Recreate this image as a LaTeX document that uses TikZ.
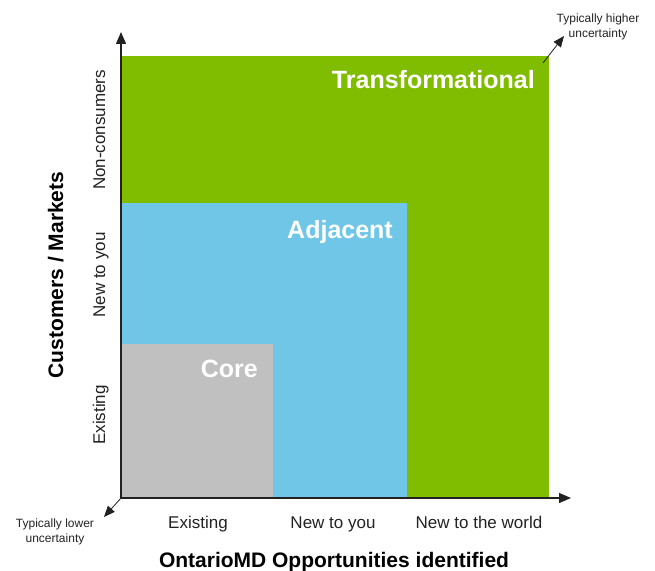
\documentclass[tikz,border=0pt]{standalone}
\usepackage{fontspec}
\setmainfont{Liberation Sans}
\usetikzlibrary{arrows.meta}
\definecolor{zonegreen}{HTML}{80BC00}
\definecolor{zoneblue}{HTML}{70C6E6}
\definecolor{zonegray}{HTML}{C0C0C0}
\definecolor{axisgray}{HTML}{222222}
\begin{document}
\begin{tikzpicture}[x=1pt,y=1pt,
  zonelabel/.style={font=\fontsize{25}{30}\selectfont\bfseries, text=white, inner sep=0pt, anchor=base east},
  ticklabel/.style={font=\fontsize{17}{20}\selectfont, text=axisgray, inner sep=0pt, anchor=base},
  axistitle/.style={font=\fontsize{21}{25}\selectfont\bfseries, text=black, inner sep=0pt, anchor=base},
  notelabel/.style={font=\fontsize{12}{14.5}\selectfont, text=axisgray, align=center, inner sep=0pt},
  axisline/.style={line width=1.3pt, draw=axisgray, -{Triangle[length=12pt,width=10pt]}},
  noteline/.style={line width=0.8pt, draw=axisgray, -{Triangle[length=11pt,width=9pt]}}]
\useasboundingbox (0,0) rectangle (655,570);

% nested zones
\fill[zonegreen] (122,72) rectangle (549,514);
\fill[zoneblue]  (122,72) rectangle (407,367);
\fill[zonegray]  (122,72) rectangle (273,226);

\node[zonelabel] (transf) at (535,481) {Transformational};
\node[zonelabel] (adj) at (393,331) {Adjacent};
\node[zonelabel] (core) at (258,192) {Core};

% axes
\coordinate (origin) at (121,72);
\coordinate (ytip) at (121,538);
\coordinate (xtip) at (571,72);
\draw[axisline] (origin) -- (ytip);
\draw[axisline] (origin) -- (xtip);

% horizontal tick labels
\node[ticklabel] (xa) at (198,42) {Existing};
\node[ticklabel] (xb) at (333,42) {New to you};
\node[ticklabel] (xc) at (479,42) {New to the world};

% vertical tick labels
\node[ticklabel, rotate=90] (ya) at (105,155) {Existing};
\node[ticklabel, rotate=90] (yb) at (105,295) {New to you};
\node[ticklabel, rotate=90] (yc) at (105,440) {Non-consumers};

% axis titles
\node[axistitle] (xtitle) at (334,3) {OntarioMD Opportunities identified};
\node[axistitle, rotate=90] (ytitle) at (63,295) {Customers / Markets};

% uncertainty notes
\node[notelabel] (high) at (598,543) {Typically higher\\uncertainty};
\node[notelabel] (low) at (55,38) {Typically lower\\uncertainty};
\coordinate (hstart) at (543,507);
\coordinate (hend) at (564,534);
\coordinate (lend) at (104,53);
\draw[noteline] (hstart) -- (hend);
\draw[noteline] (origin) -- (lend);
\end{tikzpicture}
\end{document}
